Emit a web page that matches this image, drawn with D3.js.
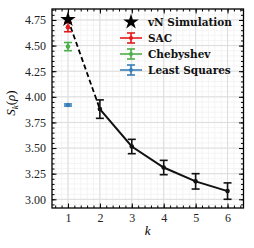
<!DOCTYPE html>
<html><head><meta charset="utf-8">
<script src="https://cdn.jsdelivr.net/npm/d3@7"></script>
<style>body{margin:0;background:#fff}svg{display:block}</style>
</head><body>
<script>
// Data
const kVals = [2, 3, 4, 5, 6];
const sVals = [3.88, 3.515, 3.31, 3.175, 3.08];
const sErr  = [0.09, 0.07, 0.07, 0.075, 0.08];
const simK = [1];
const simS = [4.755];
const methodNames = ["SAC", "Chebyshev", "Least Squares"];
const methodK = [1, 1, 1];
const methodS = [4.68, 4.49, 3.92];
const methodErr = [0.045, 0.04, 0.01];
const methodColors = ["#e41a1c", "#4daf4a", "#377eb8"];
const xTicks = [1, 2, 3, 4, 5, 6];
const yTicks = [3.00, 3.25, 3.50, 3.75, 4.00, 4.25, 4.50, 4.75];

const W = 254, H = 248;
const L = 52, R = 243.5, T = 9, B = 208;
const svg = d3.select("body").append("svg").attr("width", W).attr("height", H);
const x = d3.scaleLinear().domain([0.5, 6.5]).range([L, R]);
const y = d3.scaleLinear().domain([2.915, 4.857]).range([B, T]);
const serif = "'Liberation Serif', 'DejaVu Serif', serif";

// grids
const xMinor = d3.range(0.6, 6.5, 0.2).map(v => +v.toFixed(2));
const yMinor = d3.range(2.95, 4.86, 0.05).map(v => +v.toFixed(2));
const g = svg.append("g");
g.selectAll(".xm").data(xMinor).join("line").attr("x1", d => x(d)).attr("x2", d => x(d))
  .attr("y1", T).attr("y2", B).attr("stroke", "#f1f1f1").attr("stroke-width", 0.8);
g.selectAll(".ym").data(yMinor).join("line").attr("y1", d => y(d)).attr("y2", d => y(d))
  .attr("x1", L).attr("x2", R).attr("stroke", "#f1f1f1").attr("stroke-width", 0.8);
g.selectAll(".xM").data(xTicks).join("line").attr("x1", d => x(d)).attr("x2", d => x(d))
  .attr("y1", T).attr("y2", B).attr("stroke", "#dcdcdc").attr("stroke-width", 1);
g.selectAll(".yM").data(yTicks).join("line").attr("y1", d => y(d)).attr("y2", d => y(d))
  .attr("x1", L).attr("x2", R).attr("stroke", "#dcdcdc").attr("stroke-width", 1);

// axes with inward ticks
function styleAxis(sel) {
  sel.select(".domain").remove();
  sel.selectAll("line").attr("stroke", "#000").attr("stroke-width", 1);
  sel.selectAll("text").attr("font-family", serif).attr("font-size", 12).attr("fill", "#222");
}
const bottom = svg.append("g").attr("transform", `translate(0,${B})`)
  .call(d3.axisBottom(x).tickValues(xTicks).tickSize(-4.5).tickPadding(5).tickFormat(d3.format("d")));
styleAxis(bottom);
svg.append("g").attr("transform", `translate(0,${B})`)
  .call(d3.axisBottom(x).tickValues(xMinor).tickSize(-2.5).tickFormat("")).call(styleAxis);
const left = svg.append("g").attr("transform", `translate(${L},0)`)
  .call(d3.axisLeft(y).tickValues(yTicks).tickSize(-4.5).tickPadding(6).tickFormat(d3.format(".2f")));
styleAxis(left);
svg.append("g").attr("transform", `translate(${L},0)`)
  .call(d3.axisLeft(y).tickValues(yMinor).tickSize(-2.5).tickFormat("")).call(styleAxis);
svg.append("g").attr("transform", `translate(0,${T})`)
  .call(d3.axisTop(x).tickValues(xTicks).tickSize(-4.5).tickFormat("")).call(styleAxis);
svg.append("g").attr("transform", `translate(0,${T})`)
  .call(d3.axisTop(x).tickValues(xMinor).tickSize(-2.5).tickFormat("")).call(styleAxis);
svg.append("g").attr("transform", `translate(${R},0)`)
  .call(d3.axisRight(y).tickValues(yTicks).tickSize(-4.5).tickFormat("")).call(styleAxis);
svg.append("g").attr("transform", `translate(${R},0)`)
  .call(d3.axisRight(y).tickValues(yMinor).tickSize(-2.5).tickFormat("")).call(styleAxis);

// dashed line sim -> k=2
svg.append("line").attr("x1", x(simK[0])).attr("y1", y(simS[0])).attr("x2", x(kVals[0])).attr("y2", y(sVals[0]))
  .attr("stroke", "#000").attr("stroke-width", 1.8).attr("stroke-dasharray", "5,3");
// solid line
svg.append("path").datum(kVals.map((k, i) => [k, sVals[i]]))
  .attr("d", d3.line().x(d => x(d[0])).y(d => y(d[1])))
  .attr("fill", "none").attr("stroke", "#111").attr("stroke-width", 2);

function errbar(cx, v, e, color, cap) {
  const gg = svg.append("g").attr("stroke", color).attr("stroke-width", 1.6);
  gg.append("line").attr("x1", cx).attr("x2", cx).attr("y1", y(v - e)).attr("y2", y(v + e));
  gg.append("line").attr("x1", cx - cap).attr("x2", cx + cap).attr("y1", y(v - e)).attr("y2", y(v - e));
  gg.append("line").attr("x1", cx - cap).attr("x2", cx + cap).attr("y1", y(v + e)).attr("y2", y(v + e));
  svg.append("circle").attr("cx", cx).attr("cy", y(v)).attr("r", 2.3).attr("fill", color);
}
kVals.forEach((k, i) => errbar(x(k), sVals[i], sErr[i], "#111", 4));
methodNames.forEach((n, i) => errbar(x(methodK[i]), methodS[i], methodErr[i], methodColors[i], 4));

const star = d3.symbol().type(d3.symbolStar).size(75);
svg.append("path").attr("d", star()).attr("transform", `translate(${x(simK[0])},${y(simS[0])})`).attr("fill", "#000");

// legend
const lg = svg.append("g");
const legY = [22, 38, 54, 70];
lg.append("path").attr("d", star()).attr("transform", `translate(131,${legY[0]})`).attr("fill", "#000");
methodNames.forEach((n, i) => {
  const yy = legY[i + 1], c = methodColors[i];
  const h = lg.append("g").attr("stroke", c).attr("stroke-width", 1.6);
  h.append("line").attr("x1", 120).attr("x2", 142).attr("y1", yy).attr("y2", yy);
  h.append("line").attr("x1", 131).attr("x2", 131).attr("y1", yy - 5).attr("y2", yy + 5);
  h.append("line").attr("x1", 127).attr("x2", 135).attr("y1", yy - 5).attr("y2", yy - 5);
  h.append("line").attr("x1", 127).attr("x2", 135).attr("y1", yy + 5).attr("y2", yy + 5);
  lg.append("circle").attr("cx", 131).attr("cy", yy).attr("r", 2).attr("fill", c);
});
["vN Simulation"].concat(methodNames).forEach((t, i) => {
  lg.append("text").attr("x", 148).attr("y", legY[i] + 4).text(t)
    .attr("font-family", "'DejaVu Serif', serif").attr("font-weight", "bold").attr("font-size", 10.5).attr("fill", "#111");
});

// axis labels
svg.append("text").attr("x", (L + R) / 2).attr("y", 235).attr("text-anchor", "middle")
  .attr("font-family", serif).attr("font-style", "italic").attr("font-size", 13).text("k");
const yl = svg.append("text").attr("transform", "translate(15,103) rotate(-90)").attr("text-anchor", "middle")
  .attr("font-family", serif).attr("font-size", 13);
yl.append("tspan").attr("font-style", "italic").text("S");
yl.append("tspan").attr("font-style", "italic").attr("font-size", 9).attr("dy", 3).text("k");
yl.append("tspan").attr("dy", -3).text("(");
yl.append("tspan").attr("font-style", "italic").text("ρ");
yl.append("tspan").text(")");

// frame
svg.append("rect").attr("x", L).attr("y", T).attr("width", R - L).attr("height", B - T)
  .attr("fill", "none").attr("stroke", "#000").attr("stroke-width", 1.3);
</script>
</body></html>
